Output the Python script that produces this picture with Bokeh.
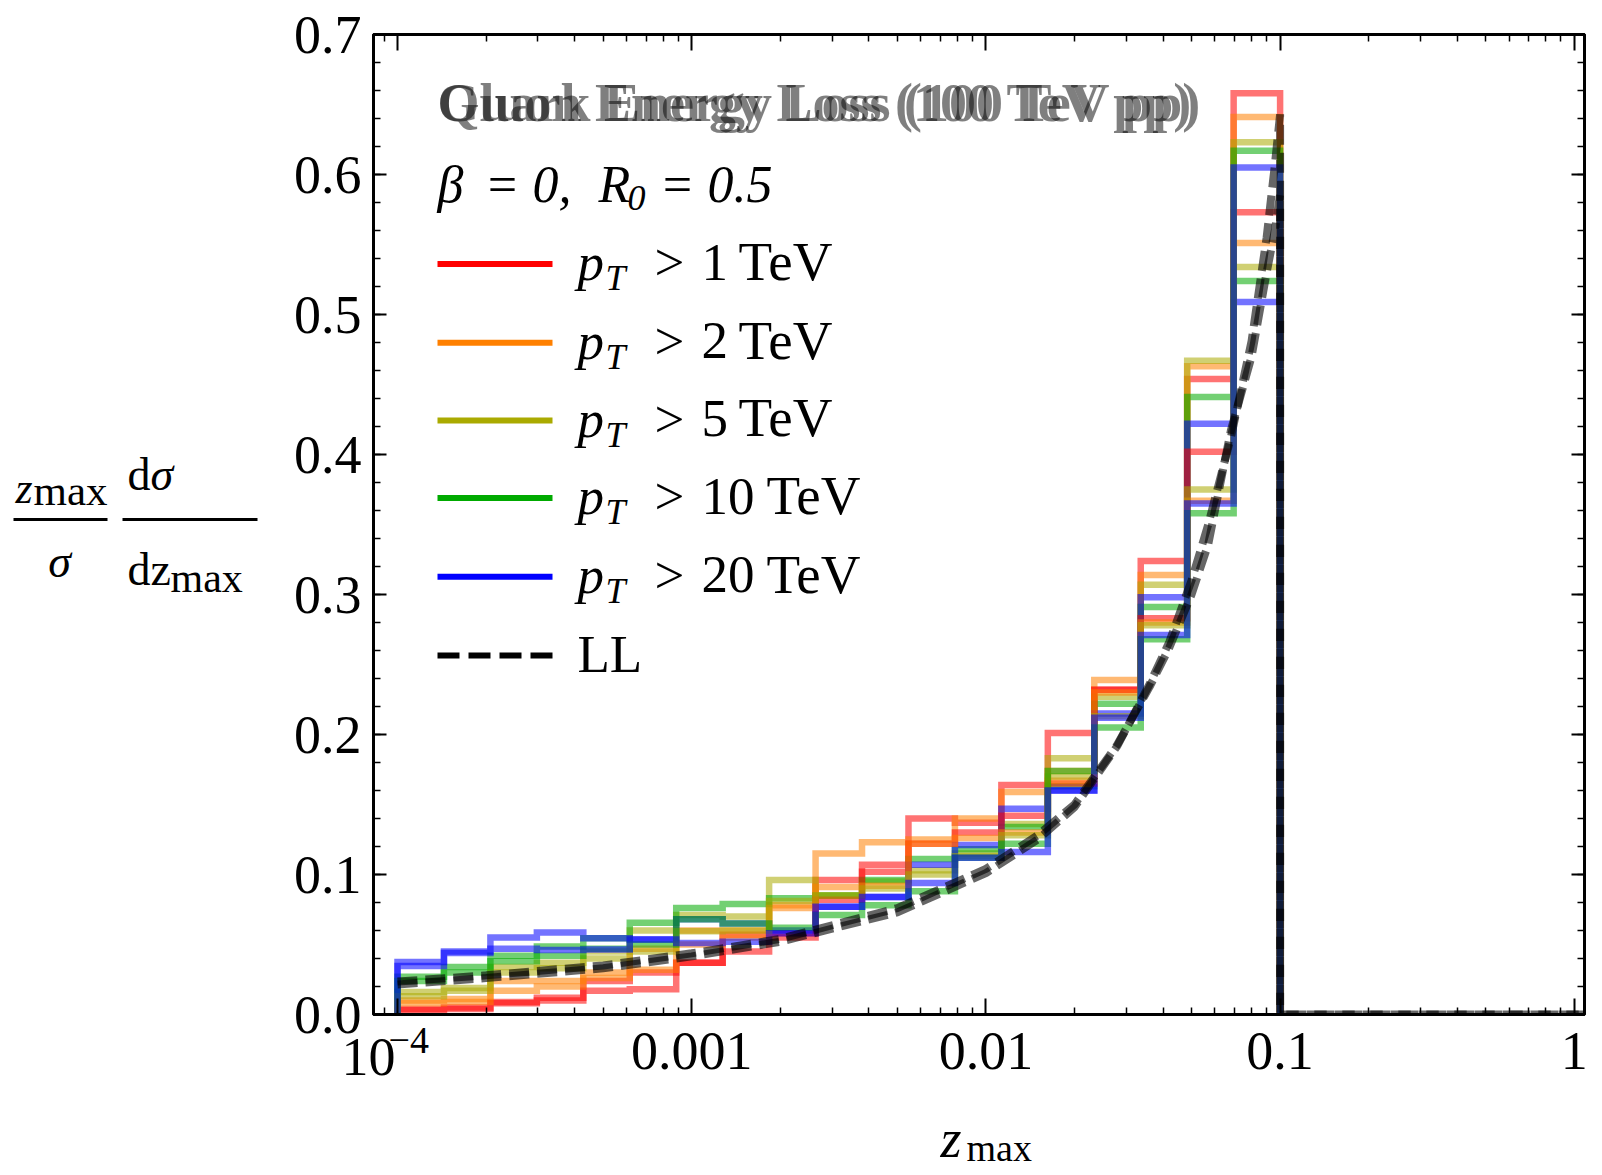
import numpy as np
from bokeh.plotting import figure
from bokeh.core.properties import value
from bokeh.models import Range1d, FixedTicker, LinearAxis, LogAxis, CustomJSTickFormatter
from bokeh.embed import file_html
from bokeh.resources import INLINE

# ---------------- data ----------------
edges = np.logspace(-4, -1, 20)          # 19 log-spaced bins between 1e-4 and 0.1

# "quark" histograms (pT > 1, 2, 5, 10, 20 TeV)
q_r = [0.004, 0.005, 0.009, 0.012, 0.024, 0.030, 0.037, 0.057, 0.058, 0.096, 0.107, 0.140, 0.137, 0.164, 0.201, 0.232, 0.324, 0.454, 0.573]
q_o = [0.010, 0.011, 0.024, 0.024, 0.030, 0.047, 0.060, 0.060, 0.078, 0.115, 0.123, 0.125, 0.140, 0.159, 0.174, 0.239, 0.314, 0.463, 0.551]
q_y = [0.016, 0.019, 0.034, 0.037, 0.045, 0.060, 0.071, 0.070, 0.096, 0.085, 0.095, 0.103, 0.115, 0.136, 0.183, 0.227, 0.307, 0.467, 0.534]
q_g = [0.027, 0.034, 0.042, 0.0485, 0.0545, 0.0655, 0.076, 0.079, 0.083, 0.085, 0.096, 0.111, 0.118, 0.134, 0.163, 0.222, 0.291, 0.441, 0.524]
q_b = [0.0375, 0.045, 0.055, 0.0585, 0.0545, 0.0535, 0.068, 0.065, 0.060, 0.077, 0.084, 0.107, 0.121, 0.147, 0.160, 0.215, 0.298, 0.422, 0.509]

# "gluon" histograms
g_r = [0.003, 0.004, 0.008, 0.010, 0.017, 0.018, 0.037, 0.045, 0.055, 0.082, 0.102, 0.122, 0.130, 0.142, 0.165, 0.232, 0.283, 0.402, 0.658]
g_o = [0.008, 0.009, 0.017, 0.020, 0.026, 0.032, 0.050, 0.055, 0.076, 0.091, 0.092, 0.122, 0.126, 0.130, 0.167, 0.230, 0.280, 0.367, 0.641]
g_y = [0.013, 0.017, 0.030, 0.033, 0.040, 0.045, 0.0595, 0.060, 0.081, 0.085, 0.090, 0.100, 0.113, 0.128, 0.170, 0.213, 0.278, 0.375, 0.623]
g_g = [0.024, 0.030, 0.038, 0.042, 0.047, 0.050, 0.068, 0.065, 0.062, 0.071, 0.078, 0.088, 0.112, 0.122, 0.174, 0.205, 0.268, 0.358, 0.617]
g_b = [0.0346, 0.044, 0.047, 0.046, 0.0465, 0.0535, 0.051, 0.052, 0.058, 0.077, 0.084, 0.094, 0.112, 0.116, 0.160, 0.212, 0.271, 0.365, 0.605]

# leading-log curves
ll_z = [1e-4, 2e-4, 5e-4, 1e-3, 2e-3, 5e-3, 1e-2, 1.5e-2, 2e-2, 2.8e-2, 3.6e-2, 4.2e-2, 5e-2, 5.7e-2, 6.8e-2, 8e-2, 9e-2, 9.6e-2, 0.1, 0.1, 1.1]
ll_q = [0.0235, 0.028, 0.035, 0.0437, 0.054, 0.076, 0.104, 0.128, 0.150, 0.193, 0.234, 0.262, 0.300, 0.336, 0.417, 0.470, 0.530, 0.560, 0.586, 0.0, 0.0]
ll_g = [0.0215, 0.026, 0.033, 0.0415, 0.052, 0.073, 0.101, 0.125, 0.148, 0.192, 0.236, 0.266, 0.310, 0.350, 0.412, 0.481, 0.555, 0.607, 0.643, 0.0, 0.0]

pt_labels = ["1", "2", "5", "10", "20"]
colors = ["#ff0000", "#ff8000", "#aaaa00", "#00aa00", "#0000ff"]
x_ticks = [1e-4, 1e-3, 1e-2, 1e-1, 1.0]
y_ticks = [0.0, 0.1, 0.2, 0.3, 0.4, 0.5, 0.6, 0.7]

# ---------------- geometry ----------------
FL, FW, FT, FH = 373, 1211, 34, 980
LOGMIN, LOGMAX = -4.0816, 0.0347


def X(px):
    return 10 ** (LOGMIN + (px - FL) / FW * (LOGMAX - LOGMIN))


def Y(py):
    return 0.7 * (FT + FH - py) / FH


p = figure(x_axis_type="log", x_range=Range1d(10 ** LOGMIN, 10 ** LOGMAX), y_range=Range1d(0, 0.7),
           frame_width=FW, frame_height=FH, min_border_left=FL, min_border_right=1602 - FL - FW,
           min_border_top=FT, min_border_bottom=1175 - FT - FH,
           output_backend="svg", toolbar_location=None)
p.background_fill_color = "white"
p.border_fill_color = "white"
p.grid.visible = False
p.outline_line_color = "black"
p.outline_line_width = 3

FONT = "Liberation Serif"

xminor = [m * 10.0 ** e for e in range(-5, 1) for m in range(2, 10)]
yminor = [round(0.02 * i, 3) for i in range(0, 36)]

xfmt = CustomJSTickFormatter(code="""
if (tick > 0.5) return '1';
if (tick > 0.05) return '0.1';
if (tick > 0.005) return '0.01';
if (tick > 0.0005) return '0.001';
return '';
""")
yfmt = CustomJSTickFormatter(code="return tick.toFixed(1);")
blank = CustomJSTickFormatter(code="return '';")


def style_axis(ax, major_in, minor_in, show_labels):
    ax.axis_line_width = 3
    ax.axis_line_color = "black"
    ax.major_tick_in = major_in
    ax.major_tick_out = 0
    ax.minor_tick_in = minor_in
    ax.minor_tick_out = 0
    ax.major_tick_line_width = 2
    ax.minor_tick_line_width = 1.5
    ax.major_tick_line_color = "black"
    ax.minor_tick_line_color = "black"
    ax.major_label_text_font = FONT
    ax.major_label_text_color = "black"
    if show_labels:
        ax.major_label_text_font_size = "54px"
    else:
        ax.major_label_text_font_size = "10px"
        ax.major_label_standoff = 0


xa = p.xaxis[0]
xa.ticker = FixedTicker(ticks=x_ticks, minor_ticks=xminor)
xa.formatter = xfmt
style_axis(xa, 16, 7, True)
xa.major_label_standoff = 18

ya = p.yaxis[0]
ya.ticker = FixedTicker(ticks=y_ticks, minor_ticks=yminor)
ya.formatter = yfmt
style_axis(ya, 13, 7, True)
ya.major_label_standoff = 12

top = LogAxis(ticker=FixedTicker(ticks=x_ticks, minor_ticks=xminor), formatter=blank)
style_axis(top, 16, 7, False)
p.add_layout(top, "above")
right = LinearAxis(ticker=FixedTicker(ticks=y_ticks, minor_ticks=yminor), formatter=blank)
style_axis(right, 13, 7, False)
p.add_layout(right, "right")


def outline(vals):
    xs, ys = [edges[0]], [0.0]
    for i, v in enumerate(vals):
        xs += [edges[i], edges[i + 1]]
        ys += [v, v]
    xs.append(edges[-1])
    ys.append(0.0)
    return xs, ys


HA = 0.55
for vals, c in zip([q_r, q_o, q_y, q_g, q_b], colors):
    xs, ys = outline(vals)
    p.line(xs, ys, line_color=c, line_width=6.5, line_alpha=HA, line_join="miter")
for vals, c in zip([g_r, g_o, g_y, g_g, g_b], colors):
    xs, ys = outline(vals)
    p.line(xs, ys, line_color=c, line_width=6.5, line_alpha=HA, line_join="miter")

p.line(ll_z, ll_g, line_color="black", line_width=8, line_alpha=0.6, line_dash="20 8")
p.line(ll_z, ll_q, line_color="black", line_width=8, line_alpha=0.6, line_dash="20 8")


def txt(px, py, text, size, style="normal", align="left", alpha=1.0):
    # py is the wanted baseline in page pixels; the renderer sits text ~0.355 em lower
    yy = py - 0.355 * size
    p.text(x=[X(px)], y=[Y(yy)], text=[text], text_font=value(FONT), text_font_size=value(f"{size}px"),
           text_font_style=value(style), text_align=value(align), text_baseline=value("alphabetic"),
           text_color="black", text_alpha=alpha, level="overlay")


# title (two overlaid plot titles)
txt(437, 122, "Quark Energy Loss (100 TeV pp)", 54, "bold", alpha=0.5)
txt(437, 122, "Gluon Energy Loss (100 TeV pp)", 54, "bold", alpha=0.5)

# beta line
BY = 202
txt(437, BY, "β", 52, "italic")
txt(484, BY, "= 0,", 52, "italic")
txt(598, BY, "R", 52, "italic")
txt(627, BY + 8, "0", 36, "italic")
txt(659, BY, "= 0.5", 52, "italic")

# legend
leg_y = [263.6, 342.3, 419.9, 497.6, 576.2]
for yy, lb, c in zip(leg_y, pt_labels, colors):
    p.line([X(437), X(552)], [Y(yy), Y(yy)], line_color=c, line_width=6)
    txt(577, yy + 17, "p", 53, "italic")
    txt(605, yy + 27, "T", 36, "italic")
    txt(654, yy + 17, ">", 53)
    txt(701, yy + 17, lb, 53)
    txt(738 if len(lb) == 1 else 766, yy + 17, "TeV", 55)
ll_leg = 654.9
p.line([X(437), X(552)], [Y(ll_leg), Y(ll_leg)], line_color="black", line_width=6, line_dash="22 9")
txt(577, ll_leg + 17, "LL", 53)

# x tick label 10^-4
txt(368, 1076, "10", 54, align="center")
txt(388, 1053, "−4", 38)

# x axis label
txt(940, 1158, "z", 54, "italic")
txt(966, 1161, "max", 38)

# y axis label (two fractions)
txt(15, 504, "z", 44, "italic")
txt(33, 505, "max", 43)
p.segment(x0=[X(13), X(122)], y0=[Y(519), Y(519)], x1=[X(107), X(257)], y1=[Y(519), Y(519)],
          line_color="black", line_width=3, level="overlay")
txt(59, 577, "σ", 46, "italic", align="center")
txt(127, 490, "d", 46)
txt(150, 490, "σ", 46, "italic")
txt(127, 585, "dz", 46)
txt(170, 592, "max", 42)

open("out.html", "w").write(file_html(p, INLINE))
